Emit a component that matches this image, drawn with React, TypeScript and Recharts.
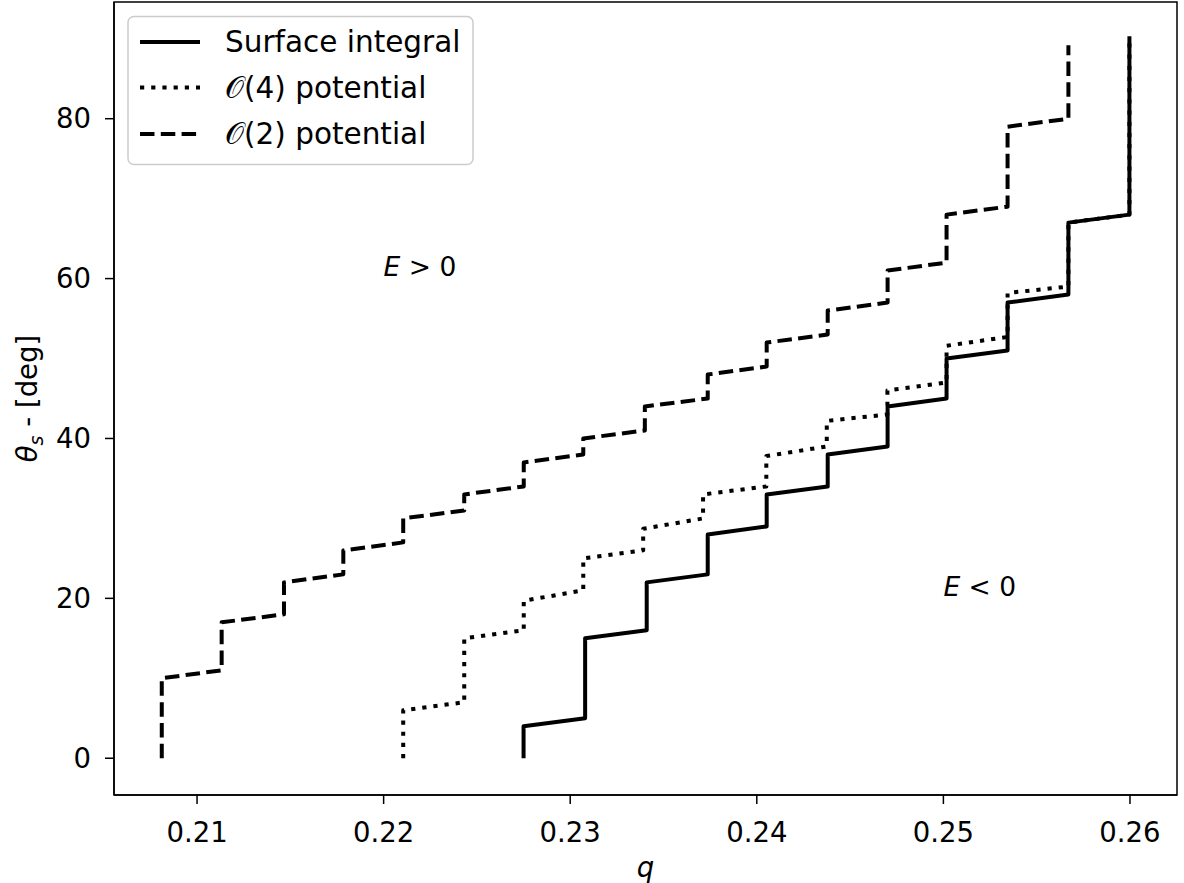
import React from "react";
import { LineChart, Line, XAxis, YAxis, ReferenceArea, ReferenceDot, Legend } from "recharts";

const surfaceQ = [0.2275, 0.2275, 0.2308, 0.2308, 0.2341, 0.2341, 0.23737, 0.23737, 0.24053, 0.24053, 0.2438, 0.2438, 0.24701, 0.24701, 0.25017, 0.25017, 0.25344, 0.25344, 0.2567, 0.2567, 0.25997, 0.25997];
const surfaceTheta = [0, 4, 5, 15, 16, 22, 23, 28, 29, 33, 34, 38, 39, 44, 45, 50, 51, 57, 58, 67, 68, 90.3];

const o4Q = [0.22105, 0.22105, 0.22432, 0.22432, 0.22751, 0.22751, 0.2307, 0.2307, 0.23391, 0.23391, 0.23712, 0.23712, 0.24051, 0.24051, 0.24375, 0.24375, 0.247, 0.247, 0.25017, 0.25017, 0.25344, 0.25344, 0.2567, 0.2567, 0.25997, 0.25997];
const o4Theta = [0, 6, 7, 15, 16, 19.7, 21, 25, 26, 28.7, 30, 33, 34, 37.8, 39, 42.2, 43, 46, 47, 51.6, 52.7, 58.2, 59, 67, 68, 90.3];

const o2Q = [0.20811, 0.20811, 0.21132, 0.21132, 0.21466, 0.21466, 0.21784, 0.21784, 0.22105, 0.22105, 0.22432, 0.22432, 0.22751, 0.22751, 0.2307, 0.2307, 0.234, 0.234, 0.23737, 0.23737, 0.24053, 0.24053, 0.2438, 0.2438, 0.24701, 0.24701, 0.25017, 0.25017, 0.25344, 0.25344, 0.2567, 0.2567];
const o2Theta = [0, 10, 11, 17, 18, 22, 23, 26, 27, 30, 31, 33, 34, 37, 38, 40, 41, 44, 45, 48, 49, 52, 53, 56, 57, 61, 62, 68, 69, 79, 80, 89.2];

const xTicks = [0.21, 0.22, 0.23, 0.24, 0.25, 0.26];
const yTicks = [0, 20, 40, 60, 80];
const Q_MIN = 0.20555;
const Q_MAX = 0.26252;
const T_MIN = -4.6;
const T_MAX = 94.6;

const seriesNames = ["Surface integral", "\u{1D4AA}(4) potential", "\u{1D4AA}(2) potential"];

const zip = (qs: number[], ts: number[]) => qs.map((q, i) => ({ q, theta: ts[i] }));
const surfaceData = zip(surfaceQ, surfaceTheta);
const o4Data = zip(o4Q, o4Theta);
const o2Data = zip(o2Q, o2Theta);

const FONT = "'DejaVu Sans', sans-serif";
const FS = 27.5;
const LW = 4;
const DOTTED = "4.2 7";
const DASHED = "14.5 6.3";

const LegendBox = () => (
  <svg width={1184} height={200} style={{ position: "absolute", left: 0, top: 0, overflow: "visible" }}>
    <rect x={128} y={16.5} width={345} height={148} rx={6} ry={6} fill="rgba(255,255,255,0.8)" stroke="#cccccc" strokeWidth={1.5} />
    {[
      { y: 42, dash: undefined as string | undefined },
      { y: 87.5, dash: DOTTED },
      { y: 134, dash: DASHED },
    ].map((r, i) => (
      <g key={i}>
        <line x1={140} x2={200} y1={r.y} y2={r.y} stroke="#000" strokeWidth={LW} strokeDasharray={r.dash} />
        <text x={225} y={r.y + 10} fontFamily={FONT} fontSize={29.5} fill="#000">
          {seriesNames[i]}
        </text>
      </g>
    ))}
  </svg>
);

const YLabel = (props: any) => {
  const vb = props.viewBox || {};
  const cy = (vb.y ?? 2) + (vb.height ?? 793) / 2;
  const cx = 37;
  return (
    <text x={cx} y={cy} transform={`rotate(-90 ${cx} ${cy})`} textAnchor="middle" fontFamily={FONT} fontSize={FS} fill="#000">
      <tspan fontStyle="italic">θ</tspan>
      <tspan fontSize={19} dy={6} fontStyle="italic">s</tspan>
      <tspan dy={-6}> - [deg]</tspan>
    </text>
  );
};

const Annot = (text: string) => (props: any) => (
  <text x={props.cx} y={props.cy} fontFamily={FONT} fontSize={26.5} fill="#000">
    <tspan fontStyle="italic">E</tspan>
    <tspan>{text}</tspan>
  </text>
);

export default function App() {
  return (
    <div style={{ position: "absolute", left: 0, top: 0, background: "#fff" }}>
      <LineChart width={1184} height={883} margin={{ top: 2, right: 7, left: 0, bottom: 0 }}>
        <XAxis
          dataKey="q"
          type="number"
          domain={[Q_MIN, Q_MAX]}
          ticks={xTicks}
          tickFormatter={(v: number) => v.toFixed(2)}
          allowDataOverflow
          height={88}
          tickSize={9}
          tickMargin={18}
          axisLine={{ stroke: "#000", strokeWidth: 1.5 }}
          tickLine={{ stroke: "#000", strokeWidth: 1.5 }}
          tick={{ fill: "#000", fontFamily: FONT, fontSize: FS }}
          label={{ value: "q", position: "insideBottom", offset: 6, fill: "#000", fontFamily: FONT, fontSize: FS, fontStyle: "italic" }}
        />
        <YAxis
          type="number"
          domain={[T_MIN, T_MAX]}
          ticks={yTicks}
          allowDataOverflow
          width={114}
          tickSize={9}
          tickMargin={14}
          axisLine={{ stroke: "#000", strokeWidth: 1.5 }}
          tickLine={{ stroke: "#000", strokeWidth: 1.5 }}
          tick={{ fill: "#000", fontFamily: FONT, fontSize: FS }}
          label={{ content: YLabel }}
        />
        <ReferenceArea x1={Q_MIN} x2={Q_MAX} y1={T_MIN} y2={T_MAX} fill="none" stroke="#000" strokeWidth={1.5} ifOverflow="visible" />
        <Line data={surfaceData} dataKey="theta" type="linear" dot={false} stroke="#000" strokeWidth={LW} strokeLinejoin="round" isAnimationActive={false} />
        <Line data={o4Data} dataKey="theta" type="linear" dot={false} stroke="#000" strokeWidth={LW} strokeDasharray={DOTTED} strokeLinejoin="round" isAnimationActive={false} />
        <Line data={o2Data} dataKey="theta" type="linear" dot={false} stroke="#000" strokeWidth={LW} strokeDasharray={DASHED} strokeLinejoin="round" isAnimationActive={false} />
        <ReferenceDot x={0.22} y={60.3} r={0} shape={Annot(" > 0")} />
        <ReferenceDot x={0.25} y={20.3} r={0} shape={Annot(" < 0")} />
        <Legend content={LegendBox} wrapperStyle={{ position: "absolute", left: 0, top: 0, width: 0, height: 0, overflow: "visible" }} />
      </LineChart>
    </div>
  );
}
